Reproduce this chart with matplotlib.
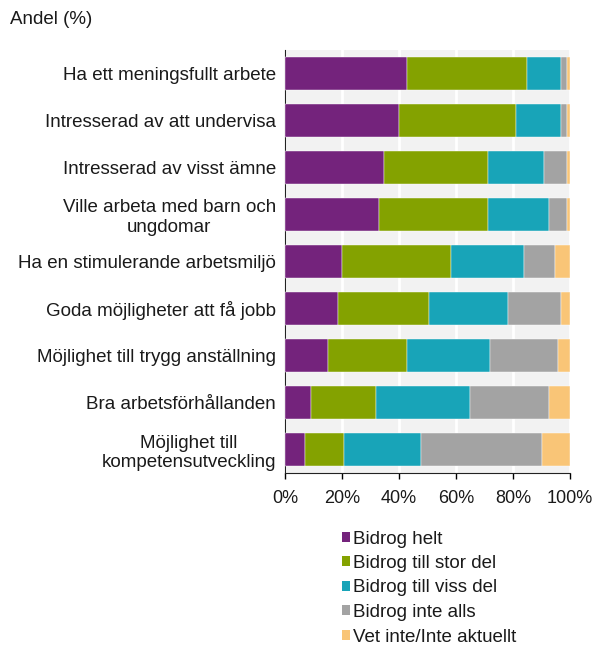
import matplotlib
matplotlib.use("Agg")
import matplotlib.pyplot as plt
from matplotlib.patches import Patch
from matplotlib.ticker import FuncFormatter, MultipleLocator

plt.rcParams['font.family'] = ['Liberation Sans', 'DejaVu Sans']

categories = [
    "Ha ett meningsfullt arbete",
    "Intresserad av att undervisa",
    "Intresserad av visst ämne",
    "Ville arbeta med barn och\nungdomar",
    "Ha en stimulerande arbetsmiljö",
    "Goda möjligheter att få jobb",
    "Möjlighet till trygg anställning",
    "Bra arbetsförhållanden",
    "Möjlighet till\nkompetensutveckling",
]
series_names = ["Bidrog helt", "Bidrog till stor del", "Bidrog till viss del",
                "Bidrog inte alls", "Vet inte/Inte aktuellt"]
bidrog_helt = [42.8, 40.1, 34.7, 33.0, 19.9, 18.6, 15.0, 9.1, 6.9]
bidrog_stor = [42.2, 41.0, 36.4, 38.1, 38.3, 31.9, 27.8, 22.8, 13.8]
bidrog_viss = [11.8, 15.7, 19.9, 21.6, 25.5, 27.9, 29.2, 33.0, 27.0]
bidrog_inte = [2.3, 2.3, 8.1, 6.4, 11.2, 18.4, 23.9, 27.8, 42.4]
vet_inte = [0.9, 0.9, 0.9, 0.9, 5.1, 3.2, 4.1, 7.3, 9.9]
series = [bidrog_helt, bidrog_stor, bidrog_viss, bidrog_inte, vet_inte]
colors = ["#74237c", "#84a200", "#18a4b8", "#a3a3a3", "#f9c577"]

fig = plt.figure(figsize=(5.95, 6.45), dpi=100)
ax = fig.add_axes([285/595, 172/645, 285/595, 423/645])
ax.set_facecolor("#f2f2f2")

ypos = list(range(len(categories)))
left = [0.0] * len(categories)
for vals, col in zip(series, colors):
    ax.barh(ypos, vals, left=left, height=0.72, color=col,
            edgecolor="#ffffff", linewidth=0.3, zorder=3)
    left = [l + v for l, v in zip(left, vals)]

ax.set_ylim(len(categories) - 0.5, -0.5)
ax.set_xlim(0, 100)
ax.xaxis.set_major_locator(MultipleLocator(20))
ax.xaxis.set_major_formatter(FuncFormatter(lambda v, p: f"{int(v)}%"))
ax.grid(axis="x", color="white", linewidth=2, zorder=1)
ax.set_yticks(ypos)
ax.set_yticklabels(categories, fontsize=13.5, ha="right", multialignment="center",
                   color="#1a1a1a")
ax.tick_params(axis="y", length=0, pad=6.5)
ax.tick_params(axis="x", length=4, width=1, labelsize=13, pad=8.5, direction="out",
               labelcolor="#1a1a1a")
for s in ["top", "right"]:
    ax.spines[s].set_visible(False)
ax.spines["left"].set_color("#222222")
ax.spines["bottom"].set_color("#222222")

fig.text(10/595, 1 - 20/645, "Andel (%)", fontsize=13.5, ha="left", va="center",
         color="#1a1a1a")

handles = [Patch(facecolor=c, edgecolor="none") for c in colors]
leg = fig.legend(handles, series_names, loc="upper left",
                 bbox_to_anchor=(334/595, 1 - 523/645), frameon=False,
                 fontsize=13.5, handlelength=0.45, handleheight=0.45,
                 handletextpad=0.14, labelspacing=0.4, borderaxespad=0,
                 labelcolor="#1a1a1a")

fig.savefig("out.png", dpi=100)
